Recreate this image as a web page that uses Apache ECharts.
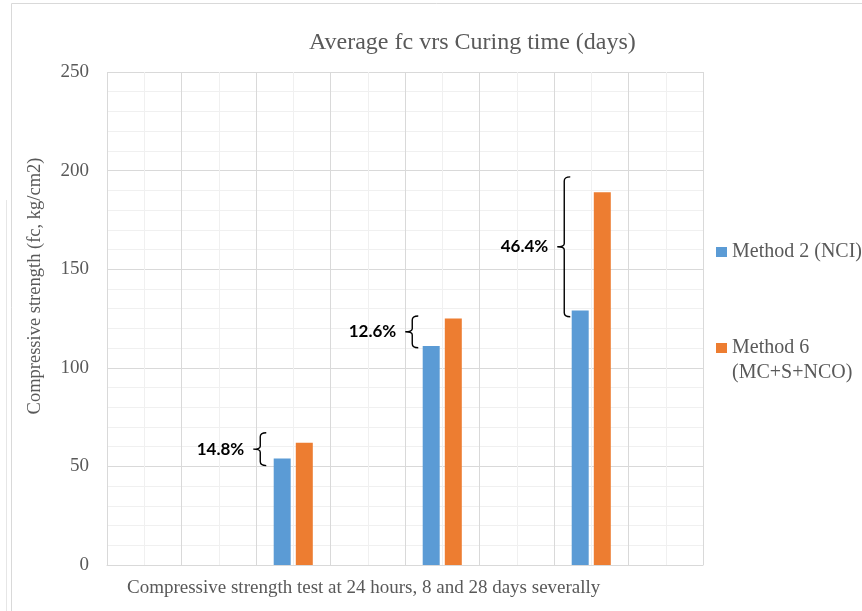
<!DOCTYPE html>
<html>
<head>
<meta charset="utf-8">
<script src="https://cdn.jsdelivr.net/npm/echarts@6/dist/echarts.min.js"></script>
<style>
html,body{margin:0;padding:0;background:#fff;}
#chart{width:862px;height:611px;}
</style>
</head>
<body>
<div id="chart"></div>
<script>
// ---- data ----
const categories = ['', '', '24 hours', '', '8 days', '', '28 days', ''];
const method2 = [null, null, 54, null, 111, null, 129, null];
const method6 = [null, null, 62, null, 125, null, 189, null];
const seriesNames = ['Method 2 (NCI)', 'Method 6\n(MC+S+NCO)'];
const yMin = 0, yMax = 250, yStep = 50;
// increase annotations (brace ranges in data units)
const braceSlots = [2, 4, 6];
const braceLow = [50.4, 110.2, 125.9];
const braceHigh = [67.1, 126.3, 196.8];
const gainLabels = ['14.8%', '12.6%', '46.4%'];
const titleText = 'Average fc vrs Curing time (days)';
const xName = 'Compressive strength test at 24 hours, 8 and 28 days severally';
const yName = 'Compressive strength (fc, kg/cm2)';

// ---- chart ----
const braceDx = [-33, -30, -27];
const serif = 'Liberation Serif';
const textGray = '#595959';
const chart = echarts.init(document.getElementById('chart'));
const braceData = braceSlots.map((s, i) => [s, braceLow[i], braceHigh[i]]);

chart.setOption({
  animation: false,
  title: {
    text: titleText, left: 309, top: 31, padding: 0,
    textStyle: { fontFamily: serif, fontSize: 24, fontWeight: 'normal', color: textGray }
  },
  legend: {
    orient: 'vertical', left: 711, top: 234.5, itemWidth: 11, itemHeight: 10, itemGap: 46,
    icon: 'rect',
    textStyle: { fontFamily: serif, fontSize: 20, color: textGray, lineHeight: 25 },
    formatter: function (name) { return name.indexOf('\n') >= 0 ? '\n' + name : name; },
    data: [seriesNames[0], seriesNames[1]]
  },
  grid: { left: 107, right: 159, top: 72, bottom: 46, containLabel: false },
  xAxis: [
    {
      type: 'category', data: categories,
      axisLine: { show: true, lineStyle: { color: '#d9d9d9' } },
      axisTick: { show: false }, axisLabel: { show: false }, splitLine: { show: false }
    },
    {
      type: 'value', min: 0, max: 8, interval: 1, position: 'top',
      axisLine: { show: false }, axisTick: { show: false }, axisLabel: { show: false },
      splitLine: { show: true, lineStyle: { color: '#d9d9d9', width: 1 } },
      minorTick: { show: false, splitNumber: 2 },
      minorSplitLine: { show: true, lineStyle: { color: '#f0f0f0', width: 1 } }
    }
  ],
  yAxis: {
    type: 'value', min: yMin, max: yMax, interval: yStep,
    axisLine: { show: false }, axisTick: { show: false },
    axisLabel: { fontFamily: serif, fontSize: 19, color: textGray, margin: 18 },
    splitLine: { lineStyle: { color: '#d9d9d9', width: 1 } },
    minorTick: { show: false, splitNumber: 5 },
    minorSplitLine: { show: true, lineStyle: { color: '#f0f0f0', width: 1 } }
  },
  series: [
    {
      name: seriesNames[0], type: 'bar', xAxisIndex: 0, data: method2,
      barWidth: 17, barGap: '30%', itemStyle: { color: '#5B9BD5' }, z: 3
    },
    {
      name: seriesNames[1], type: 'bar', xAxisIndex: 0, data: method6,
      barWidth: 17, barGap: '30%', itemStyle: { color: '#ED7D31' }, z: 3
    },
    {
      type: 'custom', xAxisIndex: 0, yAxisIndex: 0, data: braceData, clip: false, z: 5,
      encode: { x: 0, y: [1, 2] },
      renderItem: function (params, api) {
        const slot = api.value(0);
        const lo = api.coord([slot, api.value(1)]);
        const hi = api.coord([slot, api.value(2)]);
        const x = lo[0] + braceDx[params.dataIndex];
        const top = hi[1], bot = lo[1], mid = (top + bot) / 2;
        const d = 'M' + (x + 6) + ' ' + top +
          ' Q' + x + ' ' + top + ' ' + x + ' ' + (top + 4) +
          ' L' + x + ' ' + (mid - 3) +
          ' Q' + x + ' ' + mid + ' ' + (x - 7) + ' ' + mid +
          ' Q' + x + ' ' + mid + ' ' + x + ' ' + (mid + 3) +
          ' L' + x + ' ' + (bot - 4) +
          ' Q' + x + ' ' + bot + ' ' + (x + 6) + ' ' + bot;
        return {
          type: 'group',
          children: [
            { type: 'path', shape: { pathData: d }, style: { stroke: '#000', fill: null, lineWidth: 1.4 } },
            { type: 'text', style: {
                text: gainLabels[params.dataIndex], x: x - 16, y: mid,
                align: 'right', verticalAlign: 'middle',
                fontFamily: 'Lato', fontWeight: 'bold', fontSize: 17, fill: '#000'
            } }
          ]
        };
      }
    }
  ],
  graphic: [
    { type: 'line', shape: { x1: 11.5, y1: 3.5, x2: 862, y2: 3.5 }, style: { stroke: '#d9d9d9', lineWidth: 1 } },
    { type: 'line', shape: { x1: 11.5, y1: 3.5, x2: 11.5, y2: 611 }, style: { stroke: '#d9d9d9', lineWidth: 1 } },
    { type: 'line', shape: { x1: 6.5, y1: 200, x2: 6.5, y2: 611 }, style: { stroke: '#e6e6e6', lineWidth: 1 } },
    {
      type: 'text', x: 35, y: 286, rotation: Math.PI / 2,
      style: { text: yName, align: 'center', verticalAlign: 'middle', fontFamily: serif, fontSize: 18.5, fill: textGray }
    },
    {
      type: 'text', x: 127, y: 588,
      style: { text: xName, align: 'left', verticalAlign: 'middle', fontFamily: serif, fontSize: 19, fill: textGray }
    }
  ]
});
</script>
</body>
</html>
